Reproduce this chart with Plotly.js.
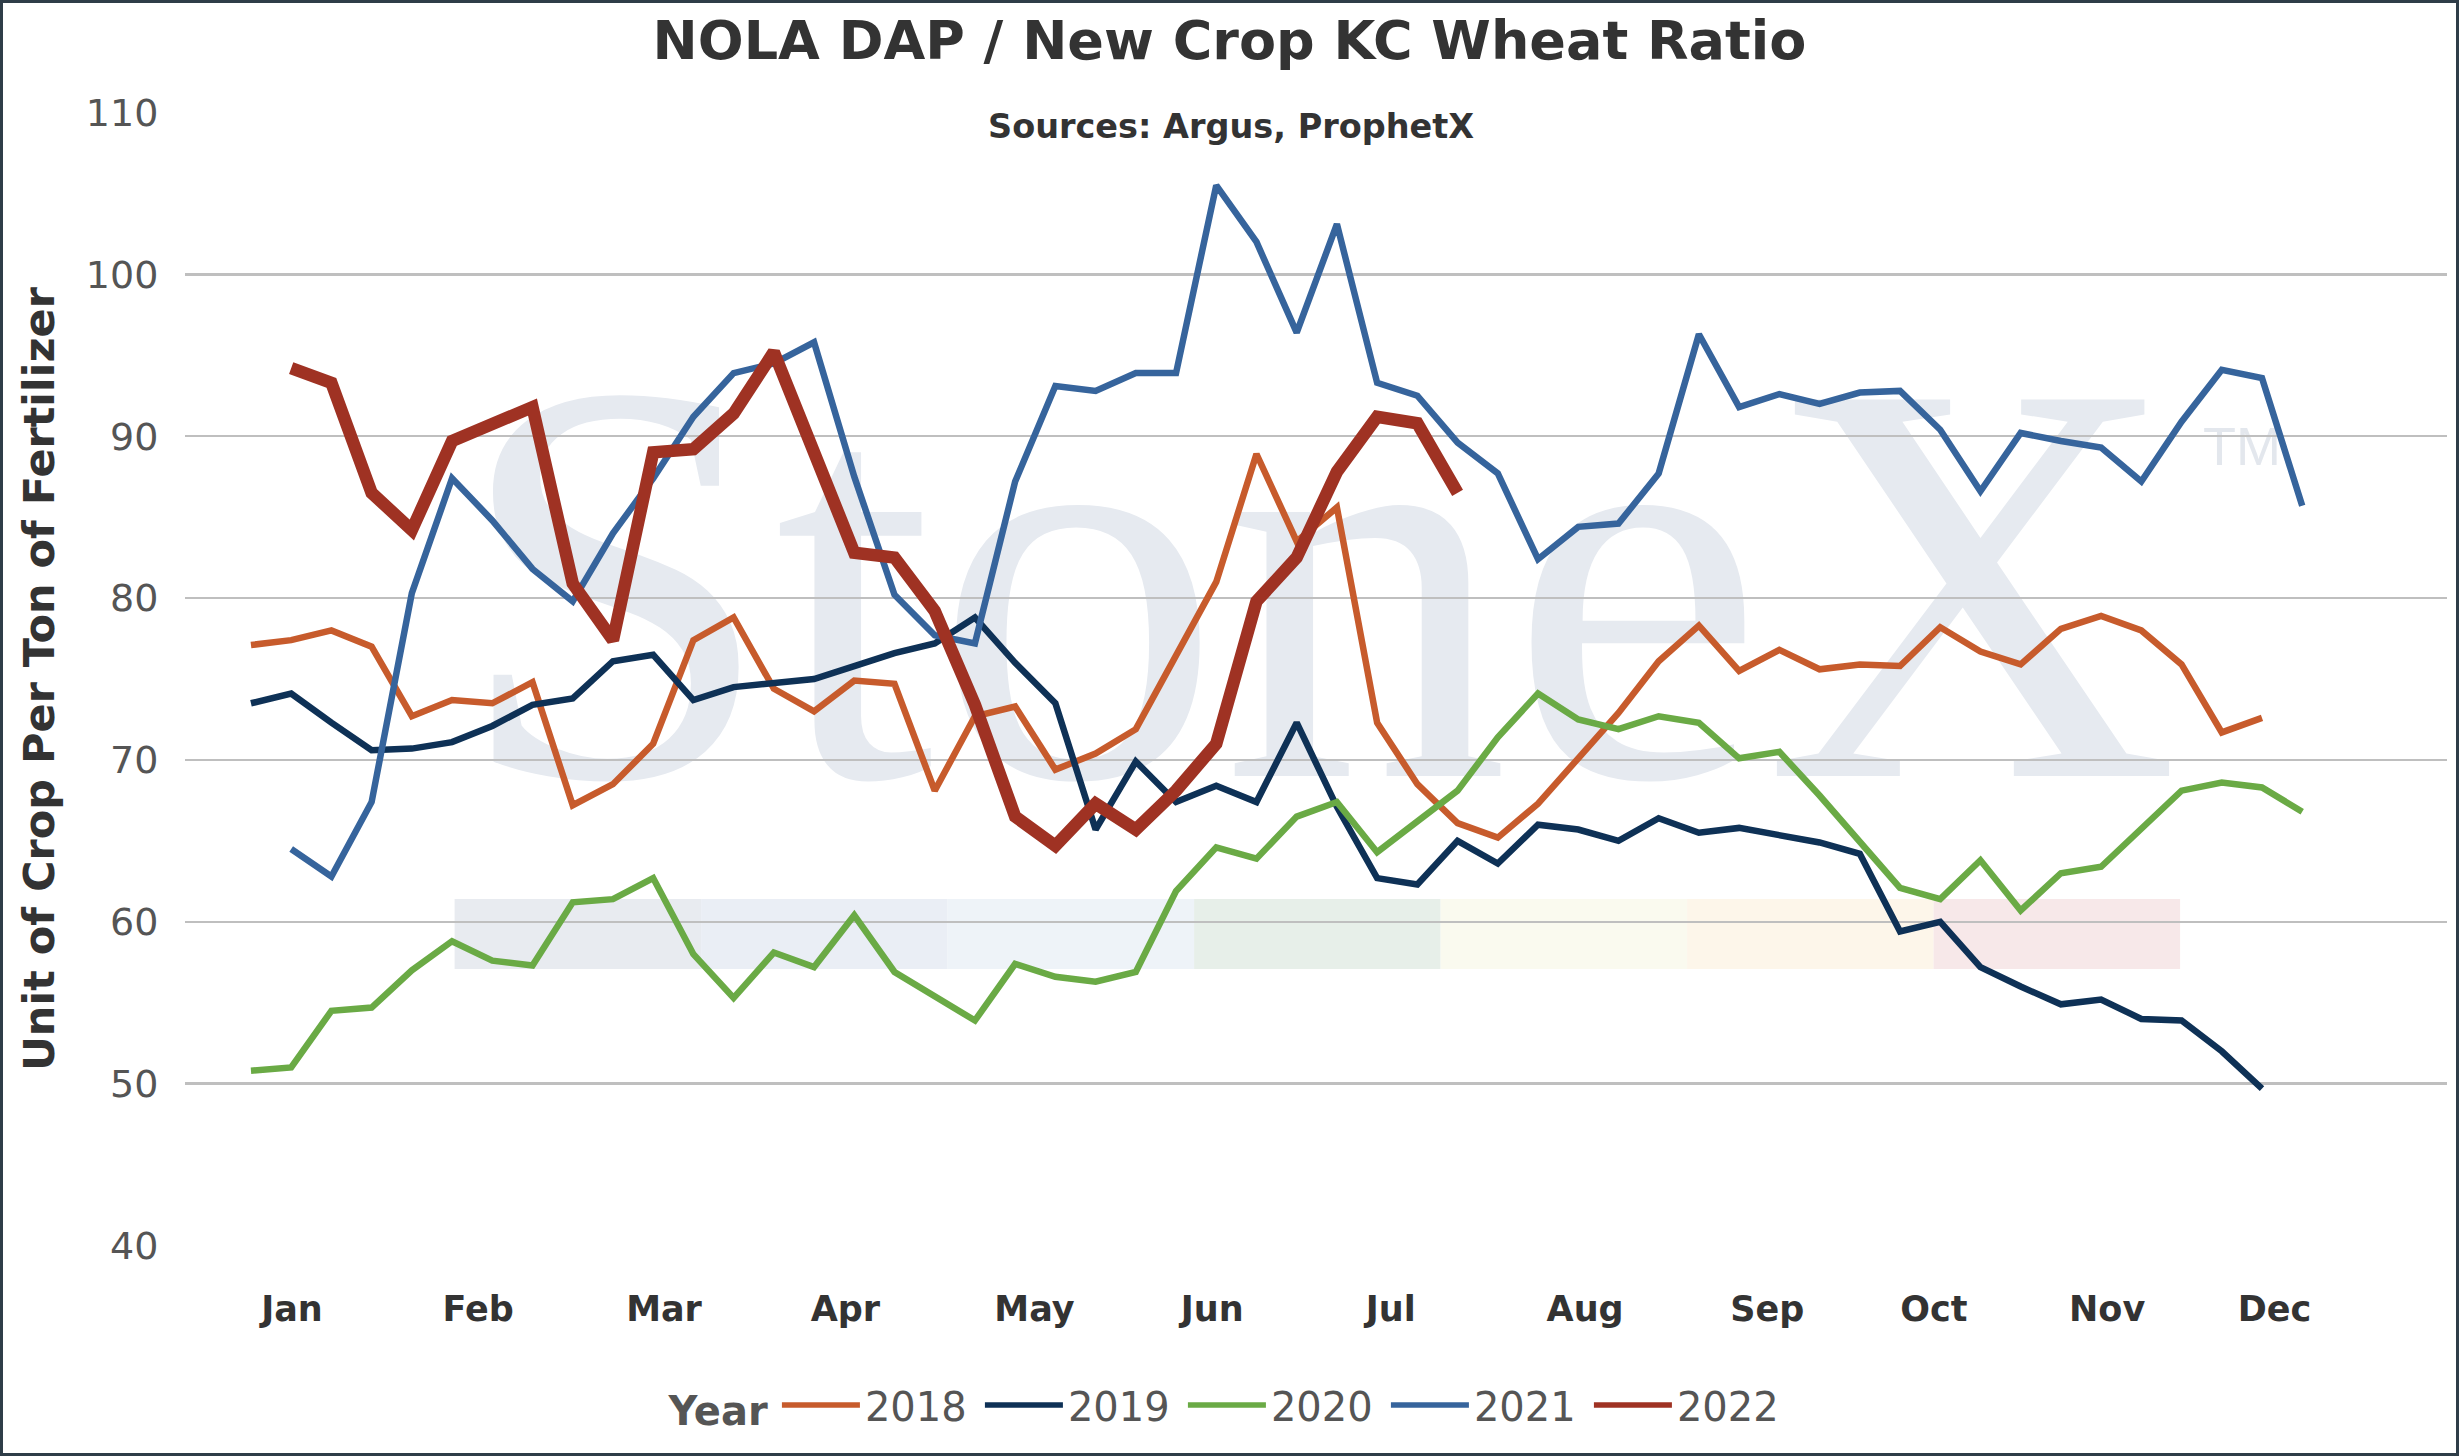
<!DOCTYPE html>
<html>
<head>
<meta charset="utf-8">
<script src="https://cdn.plot.ly/plotly-3.0.1.min.js"></script>
<style>
  html, body { margin: 0; padding: 0; background: #fff; }
  #wrap { position: relative; width: 2459px; height: 1456px; overflow: hidden; background: #fff; }
  #mark { position: absolute; left: 0; top: 0; }
  #chart { position: absolute; left: 0; top: 0; width: 2459px; height: 1456px; }
  #frame { position: absolute; left: 0; top: 0; width: 2459px; height: 1456px; box-sizing: border-box; border: 3px solid #2f3d48; pointer-events: none; }
</style>
</head>
<body>
<div id="wrap">
  <svg id="mark" width="2459" height="1456" xmlns="http://www.w3.org/2000/svg">
    <g id="bands"></g>
    <text x="1317" y="776" text-anchor="middle" font-family="Liberation Serif, serif" font-size="575" fill="#e6eaf0">StoneX</text>
    <text x="2242" y="465" text-anchor="middle" font-family="Liberation Sans, sans-serif" font-size="54" fill="#e3e7ed">TM</text>
  </svg>
  <div id="chart"></div>
  <div id="frame"></div>
</div>
<script>
const chartTitle = 'NOLA DAP / New Crop KC Wheat Ratio'
const sourceNote = 'Sources: Argus, ProphetX'
const yTitle = 'Unit of Crop Per Ton of Fertilizer'

const weeks = [1, 2, 3, 4, 5, 6, 7, 8, 9, 10, 11, 12, 13, 14, 15, 16, 17, 18, 19, 20, 21, 22, 23, 24, 25, 26,
  27, 28, 29, 30, 31, 32, 33, 34, 35, 36, 37, 38, 39, 40, 41, 42, 43, 44, 45, 46, 47, 48, 49, 50, 51, 52]

const monthLabels = ['Jan', 'Feb', 'Mar', 'Apr', 'May', 'Jun', 'Jul', 'Aug', 'Sep', 'Oct', 'Nov', 'Dec']
const monthTickWeeks = [2.02, 6.65, 11.27, 15.78, 20.48, 24.9, 29.34, 34.17, 38.7, 42.84, 47.15, 51.31]

const years = ['2018', '2019', '2020', '2021', '2022']

const ratio2018 = [77.1, 77.4, 78.0, 77.0, 72.7, 73.7, 73.5, 74.8, 67.2, 68.5, 71.0, 77.4, 78.8, 74.4, 73.0, 74.9,
  74.7, 68.1, 72.7, 73.3, 69.4, 70.4, 71.9, 76.5, 81.0, 88.9, 83.5, 85.6, 72.3, 68.5, 66.1, 65.2, 67.3, 70.1,
  72.9, 76.1, 78.3, 75.5, 76.8, 75.6, 75.9, 75.8, 78.2, 76.7, 75.9, 78.1, 78.9, 78.0, 75.9, 71.7, 72.6, null]

const ratio2019 = [73.5, 74.1, 72.3, 70.6, 70.7, 71.1, 72.1, 73.4, 73.8, 76.1, 76.5, 73.7, 74.5, 74.7, 75.0, 75.8,
  76.6, 77.2, 78.8, 76.0, 73.5, 65.7, 69.9, 67.4, 68.4, 67.4, 72.3, 67.1, 62.7, 62.3, 65.0, 63.6, 66.0, 65.7,
  65.0, 66.4, 65.5, 65.8, 65.3, 64.9, 64.2, 59.4, 60.0, 57.2, 56.0, 54.9, 55.2, 54.0, 53.9, 52.0, 49.7, null]

const ratio2020 = [50.8, 51.0, 54.5, 54.7, 57.0, 58.8, 57.6, 57.3, 61.2, 61.4, 62.7, 58.0, 55.3, 58.1, 57.2, 60.4,
  56.9, 55.4, 53.9, 57.4, 56.6, 56.3, 56.9, 61.9, 64.6, 63.9, 66.5, 67.4, 64.3, 66.2, 68.1, 71.4, 74.1, 72.5,
  71.9, 72.7, 72.3, 70.1, 70.5, 67.8, 65.0, 62.1, 61.4, 63.8, 60.7, 63.0, 63.4, 65.8, 68.1, 68.6, 68.3, 66.8]

const ratio2021 = [null, 64.5, 62.8, 67.4, 80.3, 87.4, 84.8, 81.8, 79.8, 84.0, 87.4, 91.2, 93.9, 94.5, 95.8, 87.5,
  80.2, 77.7, 77.2, 87.2, 93.1, 92.8, 93.9, 93.9, 105.5, 102.0, 96.4, 103.1, 93.3, 92.5, 89.6, 87.7, 82.4, 84.4,
  84.6, 87.7, 96.3, 91.8, 92.6, 92.0, 92.7, 92.8, 90.4, 86.6, 90.2, 89.7, 89.3, 87.2, 90.9, 94.1, 93.6, 85.7]

const ratio2022 = [null, 94.2, 93.3, 86.5, 84.2, 89.7, 90.8, 91.8, 80.9, 77.4, 89.0, 89.2, 91.4, 95.2, 89.0, 82.8,
  82.5, 79.2, 73.4, 66.5, 64.7, 67.3, 65.7, 68.1, 71.0, 79.8, 82.5, 87.8, 91.2, 90.8, 86.5]

const series = [ratio2018, ratio2019, ratio2020, ratio2021, ratio2022]
const colors = ['#c75b2c', '#0e3156', '#6aaa45', '#36649c', '#9f3223']
const widths = [6.5, 6.5, 6.5, 6.5, 12.5]

// pale strips of the StoneX watermark
const bandColors = ['#e8ebf0', '#eaeef5', '#eef3f8', '#e7efe9', '#fafaef', '#fdf6ea', '#f7e8e9']

function drawMark () {
  const g = document.getElementById('bands')
  bandColors.forEach((c, i) => {
    const r = document.createElementNS('http://www.w3.org/2000/svg', 'rect')
    r.setAttribute('x', 454.6 + i * 246.5)
    r.setAttribute('y', 899)
    r.setAttribute('width', 246.5)
    r.setAttribute('height', 70)
    r.setAttribute('fill', c)
    g.appendChild(r)
  })
}

function buildChart () {
  const data = years.map((name, i) => ({
    x: weeks.slice(0, series[i].length),
    y: series[i],
    name: name,
    type: 'scatter',
    mode: 'lines',
    connectgaps: false,
    showlegend: false,
    legendgroup: name,
    line: { color: colors[i], width: widths[i] }
  }))

  // legend entries all use the same stroke, as in the original key
  years.forEach((name, i) => {
    data.push({
      x: [null],
      y: [null],
      name: name,
      type: 'scatter',
      mode: 'lines',
      legendgroup: name,
      line: { color: colors[i], width: 5.5 }
    })
  })

  const layout = {
    width: 2459,
    height: 1456,
    margin: { l: 185, r: 12, t: 112, b: 210 },
    paper_bgcolor: 'rgba(0,0,0,0)',
    plot_bgcolor: 'rgba(0,0,0,0)',
    font: { family: 'DejaVu Sans, Verdana, sans-serif', color: '#555' },
    showlegend: true,
    title: {
      text: chartTitle,
      x: 0.5,
      xref: 'container',
      y: 1 - 40 / 1456,
      yref: 'container',
      yanchor: 'middle',
      font: { size: 54, weight: 'bold', color: '#333' }
    },
    xaxis: {
      range: [-0.64, 55.6],
      tickvals: monthTickWeeks,
      ticktext: monthLabels,
      showgrid: false,
      zeroline: false,
      showline: false,
      ticks: 'outside',
      ticklen: 32,
      tickcolor: 'rgba(0,0,0,0)',
      tickfont: { size: 35, weight: 'bold', color: '#333' }
    },
    yaxis: {
      range: [39.97, 110.03],
      tick0: 40,
      dtick: 10,
      showgrid: true,
      gridcolor: '#bfbfbf',
      gridwidth: 2.5,
      zeroline: false,
      showline: false,
      ticks: 'outside',
      ticklen: 18,
      tickcolor: 'rgba(0,0,0,0)',
      tickfont: { size: 38, color: '#555' }
    },
    legend: {
      orientation: 'h',
      xref: 'container',
      yref: 'container',
      x: 0.5,
      xanchor: 'center',
      y: 1 - 1405 / 1456,
      yanchor: 'middle',
      entrywidth: 110,
      entrywidthmode: 'pixels',
      itemwidth: 78,
      bgcolor: 'rgba(0,0,0,0)',
      font: { size: 40, color: '#555' },
      title: { text: 'Year', side: 'left', font: { size: 40, weight: 'bold', color: '#555' } }
    },
    annotations: [
      {
        text: sourceNote,
        xref: 'paper',
        yref: 'paper',
        x: 0.4624,
        y: 0.987,
        xanchor: 'center',
        yanchor: 'middle',
        showarrow: false,
        font: { size: 33.5, weight: 'bold', color: '#333' }
      },
      {
        text: yTitle,
        xref: 'paper',
        yref: 'paper',
        x: -0.0645,
        y: 0.5,
        xanchor: 'center',
        yanchor: 'middle',
        textangle: -90,
        showarrow: false,
        font: { size: 43, weight: 'bold', color: '#333' }
      }
    ]
  }

  const config = { displayModeBar: false, responsive: false, staticPlot: true }

  Plotly.newPlot('chart', data, layout, config)
}

drawMark()
buildChart()
</script>
</body>
</html>
